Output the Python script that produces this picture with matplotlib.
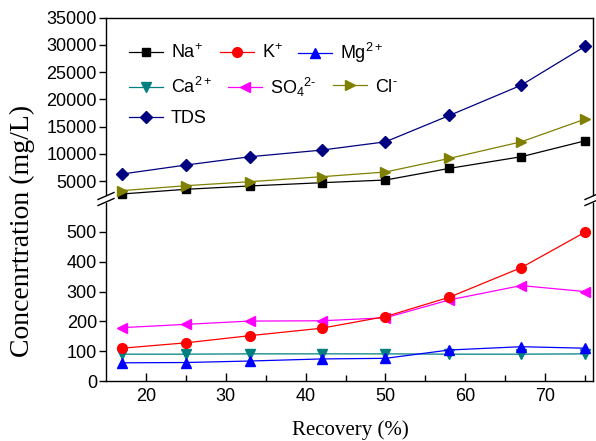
import matplotlib
matplotlib.use("Agg")
import matplotlib.pyplot as plt
from matplotlib.lines import Line2D

plt.rcParams['font.family'] = ['Liberation Sans', 'DejaVu Sans']
plt.rcParams['mathtext.fontset'] = 'custom'
plt.rcParams['mathtext.rm'] = 'Liberation Sans'
plt.rcParams['mathtext.it'] = 'Liberation Sans:italic'
plt.rcParams['mathtext.bf'] = 'Liberation Sans:bold'

recovery = [17, 25, 33, 42, 50, 58, 67, 75]
na = [2620, 3480, 4090, 4690, 5180, 7320, 9450, 12370]
k = [110, 128, 152, 177, 216, 281, 380, 499]
mg = [61, 62, 67, 74, 76, 104, 115, 110]
ca = [90, 90, 91, 91, 91, 90, 90, 91]
so4 = [179, 190, 201, 202, 212, 272, 320, 300]
cl = [3230, 4140, 4870, 5790, 6650, 9150, 12190, 16350]
tds = [6280, 7930, 9450, 10670, 12190, 17020, 22570, 29700]

labels = ['Na$^{+}$', 'K$^{+}$', 'Mg$^{2+}$', 'Ca$^{2+}$', 'SO$_{4}$$^{2\\text{-}}$',
          'Cl$^{\\text{-}}$', 'TDS']
upper_ticks = [5000, 10000, 15000, 20000, 25000, 30000, 35000]
lower_ticks = [0, 100, 200, 300, 400, 500]
x_ticks = [20, 30, 40, 50, 60, 70]

W, H = 596, 441
fig = plt.figure(figsize=(W / 100, H / 100), dpi=100)

def fx(px):
    return px / W

def fy(py):
    return 1 - py / H

left, right = 106, 593
ax_top = fig.add_axes([fx(left), fy(195), (right - left) / W, (195 - 17.5) / H])
ax_bot = fig.add_axes([fx(left), fy(381), (right - left) / W, (381 - 203) / H])

lw = 0.9
styles = {
    'na': dict(color='#000000', marker='s', ms=6),
    'k': dict(color='#FF0000', marker='o', ms=7),
    'mg': dict(color='#0000FF', marker='^', ms=7.5),
    'ca': dict(color='#008080', marker='v', ms=7.5),
    'so4': dict(color='#FF00FF', marker='<', ms=7.5),
    'cl': dict(color='#808000', marker='>', ms=7.5),
    'tds': dict(color='#000080', marker='D', ms=6),
}

h = {}
h['na'], = ax_top.plot(recovery, na, lw=lw, clip_on=False, **styles['na'])
h['cl'], = ax_top.plot(recovery, cl, lw=lw, clip_on=False, **styles['cl'])
h['tds'], = ax_top.plot(recovery, tds, lw=lw, clip_on=False, **styles['tds'])
h['ca'], = ax_bot.plot(recovery, ca, lw=lw, clip_on=False, **styles['ca'])
h['mg'], = ax_bot.plot(recovery, mg, lw=lw, clip_on=False, **styles['mg'])
h['so4'], = ax_bot.plot(recovery, so4, lw=lw, clip_on=False, **styles['so4'])
h['k'], = ax_bot.plot(recovery, k, lw=lw, clip_on=False, **styles['k'])

for ax in (ax_top, ax_bot):
    ax.set_xlim(15, 76)
    for s in ax.spines.values():
        s.set_linewidth(1.0)
    ax.tick_params(axis='y', direction='out', length=5, width=1.0, labelsize=13, pad=1.5)

ax_top.set_ylim(2434, 35000)
ax_top.set_yticks(upper_ticks)
ax_top.spines['bottom'].set_visible(False)
ax_top.tick_params(axis='x', which='both', bottom=False, labelbottom=False)

ax_bot.set_ylim(0, 597)
ax_bot.set_yticks(lower_ticks)
ax_bot.spines['top'].set_visible(False)
ax_bot.set_xticks(x_ticks)
ax_bot.set_xticks([25, 35, 45, 55, 65, 75], minor=True)
ax_bot.tick_params(axis='x', which='major', direction='in', length=6, width=1.0, labelsize=13, pad=5)
ax_bot.tick_params(axis='x', which='minor', direction='in', length=4, width=1.0)

# break marks
for xc in (left, right):
    for yc in (196, 202):
        fig.add_artist(Line2D([fx(xc - 8), fx(xc + 8)], [fy(yc + 3.5), fy(yc - 3.5)],
                              color='black', lw=1.0))

fig.text(fx(22.5), fy(231), 'Concenrtration (mg/L)', rotation=90, ha='center', va='center',
         fontsize=20, family=['Liberation Serif', 'DejaVu Serif'])
fig.text(fx(350.5), fy(430), 'Recovery (%)', ha='center', va='center',
         fontsize=15, family=['Liberation Serif', 'DejaVu Serif'])

# legend entries placed like the reference
entries = [
    ('na', labels[0], 129, 53),
    ('k', labels[1], 220, 53),
    ('mg', labels[2], 298, 53),
    ('ca', labels[3], 129, 87),
    ('so4', labels[4], 228, 87),
    ('cl', labels[5], 333, 87),
    ('tds', labels[6], 129, 119),
]
for key, lab, px, py in entries:
    leg = fig.legend([h[key]], [lab], loc='center left', bbox_to_anchor=(fx(px), fy(py)),
                     bbox_transform=fig.transFigure, frameon=False, borderpad=0,
                     borderaxespad=0, handletextpad=0.43, handlelength=1.88,
                     fontsize=13, numpoints=1)

fig.savefig('out.png', dpi=100)
